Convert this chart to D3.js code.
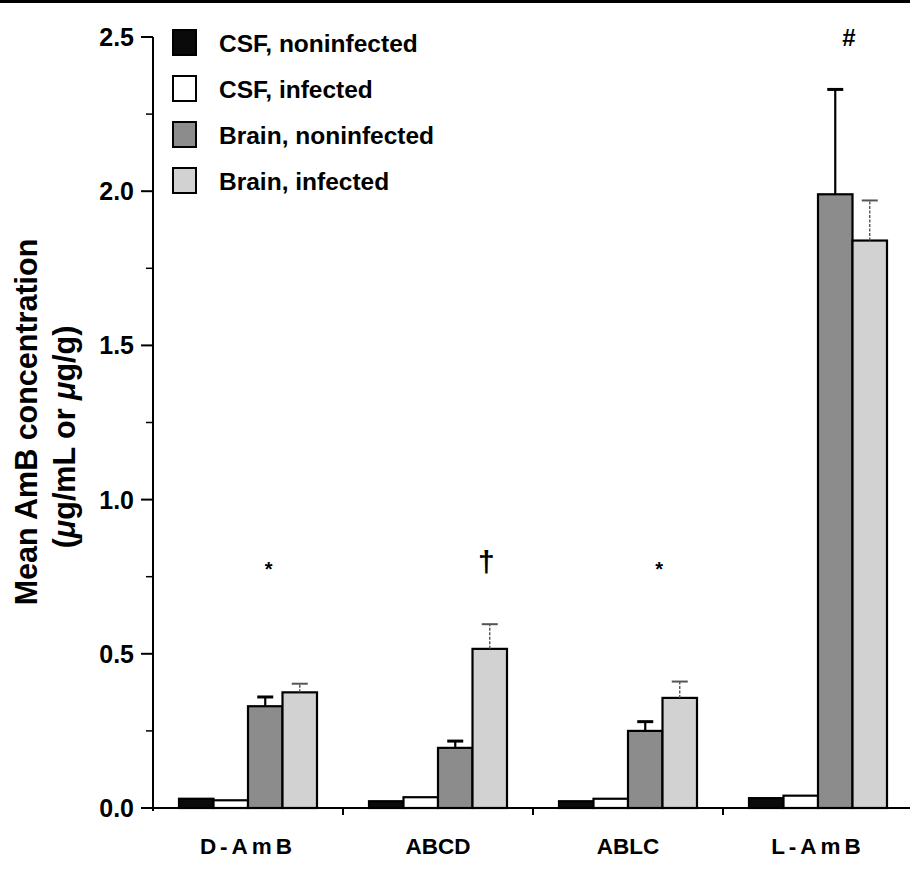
<!DOCTYPE html>
<html>
<head>
<meta charset="utf-8">
<script src="https://cdn.jsdelivr.net/npm/d3@7"></script>
<style>
	body { margin: 0; background: #fff; }
	svg { display: block; font-family: "Liberation Sans", Arial, sans-serif; }
	.tick-label { font-weight: bold; font-size: 25px; }
	.legend-label { font-weight: bold; font-size: 24.5px; }
	.cat-label { font-weight: bold; font-size: 22.5px; }
	.title { font-weight: bold; font-size: 30.5px; }
</style>
</head>
<body>
<script>
// data
var categories = ['D-AmB', 'ABCD', 'ABLC', 'L-AmB'];
var seriesNames = ['CSF, noninfected', 'CSF, infected', 'Brain, noninfected', 'Brain, infected'];
var seriesColors = ['#0a0a0a', '#ffffff', '#8c8c8c', '#d2d2d2'];
var csfNoninfected = [0.030, 0.022, 0.022, 0.032];
var csfInfected = [0.025, 0.035, 0.030, 0.040];
var brainNoninfected = [0.33, 0.195, 0.25, 1.99];
var brainInfected = [0.375, 0.516, 0.357, 1.84];
var brainNoninfectedErr = [0.03, 0.022, 0.03, 0.34];
var brainInfectedErr = [0.028, 0.08, 0.053, 0.13];
var yTicks = [0, 0.5, 1.0, 1.5, 2.0, 2.5];
var yMinorTicks = [0.25, 0.75, 1.25, 1.75, 2.25];
// significance marks: category, symbol, bar slot it sits over, height in data units
var marks = [
	{cat: 'D-AmB', sym: '*', slot: 2.1, y: 0.80},
	{cat: 'ABCD', sym: '\u2020', slot: 2.9, y: 0.80},
	{cat: 'ABLC', sym: '*', slot: 2.4, y: 0.80},
	{cat: 'L-AmB', sym: '#', slot: 2.4, y: 2.50}
];

var W = 910, H = 877;
var svg = d3.select('body').append('svg').attr('width', W).attr('height', H);

// black rule across the top
svg.append('rect').attr('x', 0).attr('y', 0).attr('width', W).attr('height', 3).attr('fill', '#000');

var y = d3.scaleLinear().domain([0, 2.5]).range([808, 37]);
var x0 = d3.scaleBand().domain(categories).range([153, 913]);
var x1 = d3.scaleBand().domain(d3.range(4)).range([26, 164]);
var barW = x1.bandwidth();

var values = [csfNoninfected, csfInfected, brainNoninfected, brainInfected];
var errs = [null, null, brainNoninfectedErr, brainInfectedErr];

// y axis
var yAxis = svg.append('g');
yAxis.append('line').attr('x1', 153).attr('x2', 153).attr('y1', y(2.5)).attr('y2', y(0) + 3)
	.attr('stroke', '#000').attr('stroke-width', 2);
yAxis.selectAll('line.major').data(yTicks).enter().append('line').attr('class', 'major')
	.attr('x1', 141).attr('x2', 153).attr('y1', function(d) { return y(d); }).attr('y2', function(d) { return y(d); })
	.attr('stroke', '#000').attr('stroke-width', 2);
yAxis.selectAll('line.minor').data(yMinorTicks).enter().append('line').attr('class', 'minor')
	.attr('x1', 146).attr('x2', 153).attr('y1', function(d) { return y(d); }).attr('y2', function(d) { return y(d); })
	.attr('stroke', '#000').attr('stroke-width', 1.5);
yAxis.selectAll('text').data(yTicks).enter().append('text').attr('class', 'tick-label')
	.attr('x', 134).attr('y', function(d) { return y(d); }).attr('dy', '0.36em')
	.attr('text-anchor', 'end').text(function(d) { return d3.format('.1f')(d); });

// x axis
svg.append('line').attr('x1', 143).attr('x2', W).attr('y1', y(0)).attr('y2', y(0))
	.attr('stroke', '#000').attr('stroke-width', 2);
svg.selectAll('line.xtick').data(categories.slice(1)).enter().append('line').attr('class', 'xtick')
	.attr('x1', function(d) { return x0(d); }).attr('x2', function(d) { return x0(d); })
	.attr('y1', y(0)).attr('y2', y(0) + 7).attr('stroke', '#000').attr('stroke-width', 2);
svg.selectAll('text.cat').data(categories).enter().append('text').attr('class', 'cat-label')
	.attr('x', function(d) { return x0(d) + x0.bandwidth() / 2; }).attr('y', 854)
	.attr('text-anchor', 'middle')
	.style('letter-spacing', function(d) { return d.indexOf('-') >= 0 ? '4px' : '0px'; })
	.text(function(d) { return d; });

// bars
var groups = svg.selectAll('g.cat').data(categories).enter().append('g').attr('class', 'cat')
	.attr('transform', function(d) { return 'translate(' + x0(d) + ',0)'; });

groups.each(function(cat, ci) {
	var g = d3.select(this);
	for (var s = 0; s < 4; s++) {
		var v = values[s][ci];
		g.append('rect').attr('x', x1(s)).attr('y', y(v)).attr('width', barW).attr('height', y(0) - y(v))
			.attr('fill', seriesColors[s]).attr('stroke', '#000').attr('stroke-width', 2.2);
		if (errs[s]) {
			var top = y(v + errs[s][ci]);
			var cx = x1(s) + barW / 2;
			var light = s == 3;
			var col = light ? '#555' : '#000';
			var sw = light ? 1.4 : 2.2;
			g.append('line').attr('x1', cx).attr('x2', cx).attr('y1', y(v)).attr('y2', top)
				.attr('stroke', col).attr('stroke-width', sw).attr('stroke-dasharray', light ? '3,1.5' : null);
			g.append('line').attr('x1', cx - 8).attr('x2', cx + 8).attr('y1', top).attr('y2', top)
				.attr('stroke', col).attr('stroke-width', light ? 2 : 3);
		}
	}
});

// significance marks
svg.selectAll('text.mark').data(marks).enter().append('text').attr('class', 'mark')
	.attr('x', function(d) { return x0(d.cat) + x1(0) + d.slot * barW + barW / 2; })
	.attr('y', function(d) { return y(d.y); })
	.attr('text-anchor', 'middle')
	.attr('dy', function(d) { return d.sym == '*' ? '0.75em' : '0.36em'; })
	.style('font-weight', 'bold')
	.style('font-size', function(d) { return d.sym == '*' ? '20px' : (d.sym == '#' ? '24px' : '30px'); })
	.text(function(d) { return d.sym; });

// legend
var legend = svg.selectAll('g.leg').data(seriesNames).enter().append('g').attr('class', 'leg')
	.attr('transform', function(d, i) { return 'translate(173,' + (30 + i * 46) + ')'; });
legend.append('rect').attr('width', 23).attr('height', 25)
	.attr('fill', function(d, i) { return seriesColors[i]; }).attr('stroke', '#000').attr('stroke-width', 2);
legend.append('text').attr('class', 'legend-label').attr('x', 46).attr('y', 13).attr('dy', '0.36em')
	.text(function(d) { return d; });

// y axis title
var title = svg.append('g').attr('transform', 'translate(37,422) rotate(-90)');
title.append('text').attr('class', 'title').attr('text-anchor', 'middle').text('Mean AmB concentration');
var sub = title.append('text').attr('class', 'title').attr('text-anchor', 'middle').attr('x', -15).attr('y', 38);
sub.append('tspan').text('(');
sub.append('tspan').style('font-style', 'italic').text('\u03bc');
sub.append('tspan').text('g/mL or ');
sub.append('tspan').style('font-style', 'italic').text('\u03bc');
sub.append('tspan').text('g/g)');
</script>
</body>
</html>
